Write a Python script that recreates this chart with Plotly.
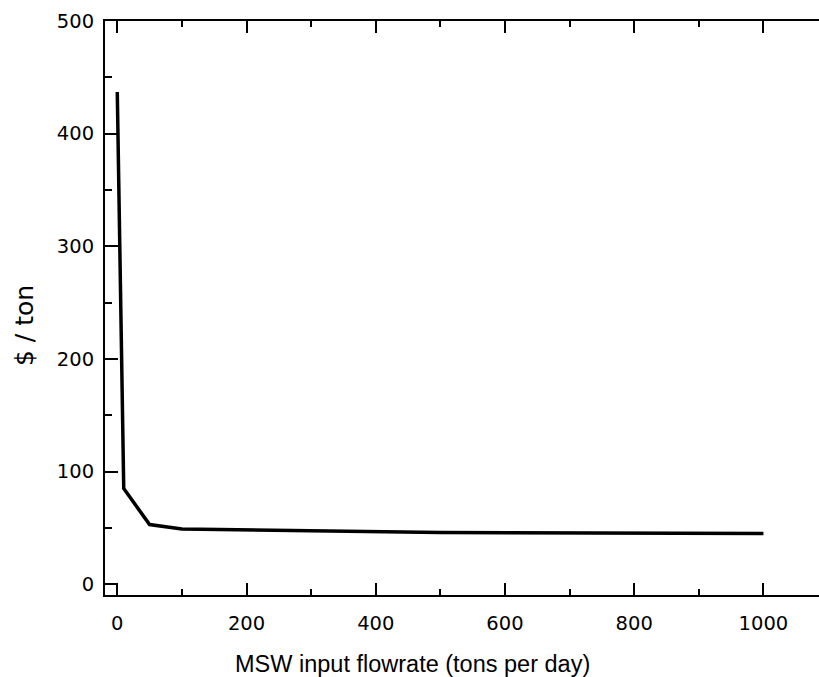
import plotly.graph_objects as go

flowrate = [0, 10, 50, 100, 500, 1000]
cost_per_ton = [437, 85, 53, 49, 46, 45]

x_tickvals = [0, 200, 400, 600, 800, 1000]
y_tickvals = [0, 100, 200, 300, 400, 500]

x_title = "MSW input flowrate (tons per day)"
y_title = "$ / ton"

fig = go.Figure()
fig.add_trace(go.Scatter(
    x=flowrate, y=cost_per_ton, mode="lines",
    line=dict(color="black", width=3.5),
    showlegend=False, hoverinfo="skip",
))

tick_font = dict(family="DejaVu Sans, sans-serif", size=19.5, color="black")
y_range = [-9.5, 500]

fig.update_xaxes(
    range=[-19, 1086], tickvals=x_tickvals, ticklen=12, ticklabelstandoff=10,
    showline=True, linecolor="black", linewidth=2, mirror="allticks",
    ticks="inside", tickcolor="black", tickwidth=2,
    showgrid=False, zeroline=False, tickfont=tick_font,
    minor=dict(dtick=100, tick0=0, ticks="inside", ticklen=6, tickwidth=2, tickcolor="black", showgrid=False),
)
fig.update_yaxes(
    range=y_range, tickvals=y_tickvals, ticklen=13, ticklabelstandoff=5,
    showline=True, linecolor="black", linewidth=2, mirror=False,
    ticks="inside", tickcolor="black", tickwidth=2,
    showgrid=False, zeroline=False, tickfont=tick_font,
    minor=dict(dtick=50, tick0=0, ticks="inside", ticklen=7, tickwidth=2, tickcolor="black", showgrid=False),
)

fig.update_layout(
    yaxis2=dict(
        overlaying="y", side="right", anchor="x", range=y_range,
        tickvals=y_tickvals, showticklabels=False, showline=False,
        ticks="inside", ticklen=3, tickwidth=2, tickcolor="black",
        showgrid=False, zeroline=False,
    ),
)

fig.add_annotation(
    text=x_title, xref="paper", yref="paper", x=0.4313, y=-0.1202,
    xanchor="center", yanchor="middle", showarrow=False,
    font=dict(family="Liberation Sans, Arial, sans-serif", size=23.5, color="black"),
)
fig.add_annotation(
    text=y_title, xref="paper", yref="paper", x=-0.1134, y=0.4686,
    xanchor="center", yanchor="middle", showarrow=False, textangle=-90,
    font=dict(family="DejaVu Sans, sans-serif", size=25, color="black"),
)

fig.update_layout(
    width=819, height=677,
    margin=dict(l=105, r=0, t=21, b=82, autoexpand=False),
    paper_bgcolor="white", plot_bgcolor="white",
)

fig.write_html("out.html")
